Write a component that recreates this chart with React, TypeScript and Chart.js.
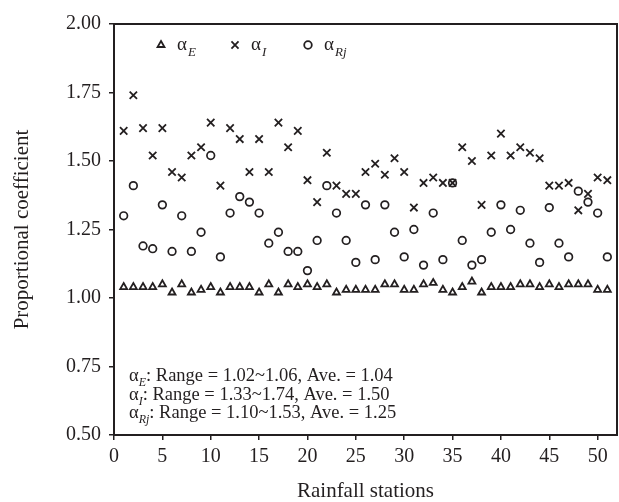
import React, { useEffect, useRef } from "react";
import { Chart, registerables } from "chart.js";

Chart.register(...registerables);

const stations = [
  1, 2, 3, 4, 5, 6, 7, 8, 9, 10, 11, 12, 13, 14, 15, 16, 17, 18, 19, 20,
  21, 22, 23, 24, 25, 26, 27, 28, 29, 30, 31, 32, 33, 34, 35, 36, 37, 38, 39, 40,
  41, 42, 43, 44, 45, 46, 47, 48, 49, 50, 51,
];

const alphaE = [
  1.04, 1.04, 1.04, 1.04, 1.05, 1.02, 1.05, 1.02, 1.03, 1.04,
  1.02, 1.04, 1.04, 1.04, 1.02, 1.05, 1.02, 1.05, 1.04, 1.05,
  1.04, 1.05, 1.02, 1.03, 1.03, 1.03, 1.03, 1.05, 1.05, 1.03,
  1.03, 1.05, 1.055, 1.03, 1.02, 1.04, 1.06, 1.02, 1.04, 1.04,
  1.04, 1.05, 1.05, 1.04, 1.05, 1.04, 1.05, 1.05, 1.05, 1.03,
  1.03,
];

const alphaI = [
  1.61, 1.74, 1.62, 1.52, 1.62, 1.46, 1.44, 1.52, 1.55, 1.64,
  1.41, 1.62, 1.58, 1.46, 1.58, 1.46, 1.64, 1.55, 1.61, 1.43,
  1.35, 1.53, 1.41, 1.38, 1.38, 1.46, 1.49, 1.45, 1.51, 1.46,
  1.33, 1.42, 1.44, 1.42, 1.42, 1.55, 1.50, 1.34, 1.52, 1.60,
  1.52, 1.55, 1.53, 1.51, 1.41, 1.41, 1.42, 1.32, 1.38, 1.44,
  1.43,
];

const alphaRj = [
  1.30, 1.41, 1.19, 1.18, 1.34, 1.17, 1.30, 1.17, 1.24, 1.52,
  1.15, 1.31, 1.37, 1.35, 1.31, 1.20, 1.24, 1.17, 1.17, 1.10,
  1.21, 1.41, 1.31, 1.21, 1.13, 1.34, 1.14, 1.34, 1.24, 1.15,
  1.25, 1.12, 1.31, 1.14, 1.42, 1.21, 1.12, 1.14, 1.24, 1.34,
  1.25, 1.32, 1.20, 1.13, 1.33, 1.20, 1.15, 1.39, 1.35, 1.31,
  1.15,
];

const yTicks = [0.5, 0.75, 1.0, 1.25, 1.5, 1.75, 2.0];
const xTicks = [0, 5, 10, 15, 20, 25, 30, 35, 40, 45, 50];

const legendItems = [
  { sym: "triangle", main: "α", sub: "E" },
  { sym: "cross", main: "α", sub: "I" },
  { sym: "circle", main: "α", sub: "Rj" },
];

const statLines = [
  { sub: "E", text: ": Range = 1.02~1.06, Ave. = 1.04" },
  { sub: "I", text: ": Range = 1.33~1.74, Ave. = 1.50" },
  { sub: "Rj", text: ": Range = 1.10~1.53, Ave. = 1.25" },
];

const INK = "#231f20";
const SERIF = "'Liberation Serif', 'DejaVu Serif', serif";

function toPoints(vals: number[]) {
  return vals.map((v, i) => ({ x: stations[i], y: v }));
}

function drawSymbol(ctx: CanvasRenderingContext2D, sym: string, x: number, y: number) {
  ctx.save();
  ctx.strokeStyle = INK;
  ctx.lineWidth = 1.8;
  ctx.beginPath();
  if (sym === "triangle") {
    const r = 4;
    ctx.moveTo(x, y - r);
    ctx.lineTo(x + 0.866 * r, y + 0.5 * r);
    ctx.lineTo(x - 0.866 * r, y + 0.5 * r);
    ctx.closePath();
  } else if (sym === "cross") {
    const d = 5 * 0.7071;
    ctx.moveTo(x - d, y - d);
    ctx.lineTo(x + d, y + d);
    ctx.moveTo(x + d, y - d);
    ctx.lineTo(x - d, y + d);
  } else {
    ctx.arc(x, y, 3.8, 0, Math.PI * 2);
  }
  ctx.stroke();
  ctx.restore();
}

const overlayPlugin = {
  id: "overlay",
  afterDraw(chart: any) {
    const { ctx, chartArea } = chart;
    ctx.save();
    ctx.strokeStyle = INK;
    ctx.lineWidth = 2;
    ctx.strokeRect(chartArea.left, chartArea.top, chartArea.right - chartArea.left, chartArea.bottom - chartArea.top);

    const legendX = [161, 235, 308];
    ctx.fillStyle = INK;
    ctx.textBaseline = "alphabetic";
    ctx.textAlign = "left";
    legendItems.forEach((it, i) => {
      const sx = legendX[i];
      drawSymbol(ctx, it.sym, sx, 45);
      let tx = sx + 16;
      ctx.font = `19px ${SERIF}`;
      ctx.fillText(it.main, tx, 50);
      tx += ctx.measureText(it.main).width + 1;
      ctx.font = `italic 13px ${SERIF}`;
      ctx.fillText(it.sub, tx, 56);
    });

    const baseX = 129;
    const baseY = [381, 399.5, 418];
    statLines.forEach((ln, i) => {
      let tx = baseX;
      const by = baseY[i];
      ctx.font = `18.5px ${SERIF}`;
      ctx.fillText("α", tx, by);
      tx += ctx.measureText("α").width;
      ctx.font = `italic 12px ${SERIF}`;
      ctx.fillText(ln.sub, tx, by + 5);
      tx += ctx.measureText(ln.sub).width;
      ctx.font = `18.5px ${SERIF}`;
      ctx.fillText(ln.text, tx, by);
    });
    ctx.restore();
  },
};

export default function App() {
  const ref = useRef<HTMLCanvasElement | null>(null);

  useEffect(() => {
    if (!ref.current) return;
    const chart = new Chart(ref.current, {
      type: "scatter",
      data: {
        datasets: [
          {
            label: "αE",
            data: toPoints(alphaE),
            pointStyle: "triangle",
            pointRadius: 4,
            borderColor: INK,
            backgroundColor: "rgba(255,255,255,0)",
            borderWidth: 1.8,
          },
          {
            label: "αI",
            data: toPoints(alphaI),
            pointStyle: "crossRot",
            pointRadius: 5.2,
            borderColor: INK,
            backgroundColor: INK,
            borderWidth: 1.8,
          },
          {
            label: "αRj",
            data: toPoints(alphaRj),
            pointStyle: "circle",
            pointRadius: 3.8,
            borderColor: INK,
            backgroundColor: "rgba(255,255,255,0)",
            borderWidth: 1.7,
          },
        ],
      },
      options: {
        responsive: false,
        animation: false,
        layout: { autoPadding: false, padding: { top: 24, right: 2, left: 0, bottom: 0 } },
        plugins: {
          legend: { display: false },
          tooltip: { enabled: false },
        },
        scales: {
          x: {
            type: "linear",
            min: 0,
            max: 52,
            afterBuildTicks: (s: any) => {
              s.ticks = xTicks.map((v) => ({ value: v }));
            },
            afterFit: (s: any) => {
              s.height = 67;
              s.paddingRight = 0;
              s.paddingLeft = 0;
            },
            ticks: {
              color: INK,
              font: { family: SERIF, size: 20 },
              padding: 5,
              maxRotation: 0,
              callback: (v: any) => String(v),
            },
            grid: {
              display: true,
              drawOnChartArea: false,
              drawTicks: true,
              tickLength: 5,
              color: INK,
              lineWidth: 1.5,
            },
            border: { display: true, color: INK, width: 2 },
            title: {
              display: true,
              text: "Rainfall stations",
              color: INK,
              font: { family: SERIF, size: 21 },
              padding: { top: 0, bottom: -2 },
            },
          },
          y: {
            type: "linear",
            min: 0.5,
            max: 2.0,
            afterBuildTicks: (s: any) => {
              s.ticks = yTicks.map((v) => ({ value: v }));
            },
            afterFit: (s: any) => {
              s.width = 114;
            },
            ticks: {
              color: INK,
              font: { family: SERIF, size: 20 },
              padding: 8,
              callback: (v: any) => Number(v).toFixed(2),
            },
            grid: {
              display: true,
              drawOnChartArea: false,
              drawTicks: true,
              tickLength: 5,
              color: INK,
              lineWidth: 1.5,
            },
            border: { display: true, color: INK, width: 2 },
            title: {
              display: true,
              text: "Proportional coefficient",
              color: INK,
              font: { family: SERIF, size: 21 },
              padding: { top: 10, bottom: 0 },
            },
          },
        },
      },
      plugins: [overlayPlugin],
    });
    return () => chart.destroy();
  }, []);

  return (
    <div style={{ position: "absolute", left: 0, top: 0, width: 619, height: 502, background: "#fff" }}>
      <canvas ref={ref} width={619} height={502} style={{ display: "block" }} />
    </div>
  );
}
